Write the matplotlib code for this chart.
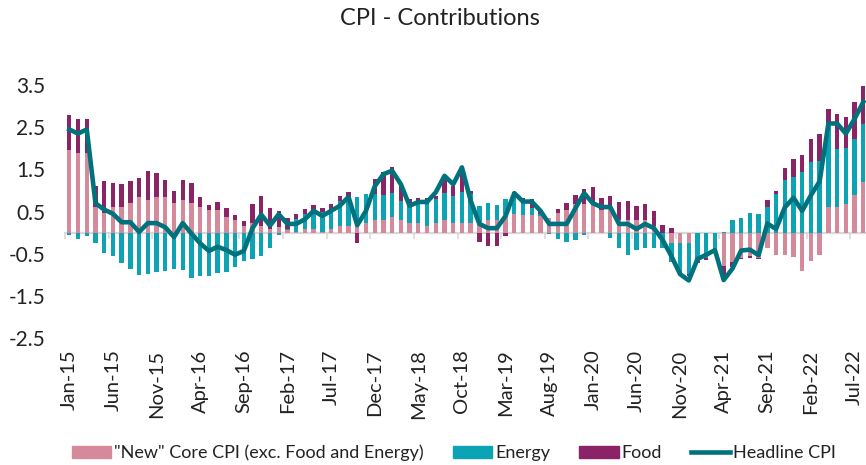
"""
CPI contributions chart - stacked bars (core / energy / food) with headline line
"""
from matplotlib import pyplot as plt
from matplotlib.patches import Patch
from matplotlib.lines import Line2D
import numpy as np
import pandas as pd

plt.rcParams['font.family'] = ['Lato', 'DejaVu Sans']

# Monthly data, Jan-15 .. Aug-22
months = pd.date_range("2015-01-01", "2022-08-01", freq="MS")
month_labels = [m.strftime("%b-%y") for m in months]

core = [1.96, 1.89, 1.89, 0.62, 0.46, 0.60, 0.60, 0.70, 0.85, 0.77, 0.85, 0.85,
        0.70, 0.77, 0.70, 0.61, 0.54, 0.54, 0.38, 0.30, 0.15, 0.23, 0.15, 0.08,
        0.14, 0.07, 0.02, 0.08, 0.08, 0.02, 0.08, 0.16, 0.16, 0.16, 0.23, 0.30,
        0.30, 0.38, 0.30, 0.23, 0.23, 0.15, 0.23, 0.30, 0.23, 0.23, 0.23, 0.23,
        0.30, 0.30, 0.45, 0.45, 0.43, 0.43, 0.40, 0.36, 0.46, 0.54, 0.68, 0.68,
        0.65, 0.54, 0.64, 0.30, 0.30, 0.30, 0.30, 0.17, 0.00, -0.24, -0.25, -0.25,
        0.00, 0.00, 0.00, -0.78, -0.70, -0.59, -0.56, -0.59, -0.37, -0.53, -0.53, -0.58,
        -0.90, -0.66, -0.52, 0.60, 0.60, 0.68, 0.90, 1.21]

energy = [-0.05, -0.15, -0.07, -0.25, -0.47, -0.56, -0.71, -0.86, -1.00, -0.98, -0.92, -0.90,
          -0.86, -0.88, -1.07, -1.03, -1.03, -0.96, -0.92, -0.82, -0.67, -0.62, -0.55, -0.35,
          -0.06, 0.02, 0.31, 0.36, 0.44, 0.48, 0.44, 0.60, 0.72, 0.68, 0.69, 0.62,
          0.60, 0.57, 0.46, 0.45, 0.45, 0.61, 0.57, 0.65, 0.65, 0.73, 0.69, 0.41,
          0.40, 0.36, 0.34, 0.51, 0.32, 0.16, 0.05, -0.04, -0.15, -0.23, -0.17, -0.05,
          0.02, -0.01, -0.13, -0.37, -0.53, -0.41, -0.36, -0.35, -0.36, -0.45, -0.67, -0.73,
          -0.68, -0.60, -0.42, 0.03, 0.31, 0.34, 0.46, 0.44, 0.60, 0.92, 1.26, 1.33,
          1.45, 1.67, 1.69, 2.01, 1.38, 1.34, 1.32, 1.37]

food = [0.82, 0.80, 0.81, 0.49, 0.76, 0.58, 0.55, 0.53, 0.44, 0.70, 0.56, 0.41,
        0.30, 0.49, 0.47, 0.24, 0.13, 0.19, 0.20, 0.11, 0.12, 0.45, 0.73, 0.50,
        0.37, 0.27, 0.11, 0.12, 0.13, 0.08, 0.16, 0.12, 0.09, -0.25, 0.00, 0.35,
        0.55, 0.60, 0.36, 0.12, 0.14, 0.06, 0.08, 0.40, 0.24, 0.55, 0.08, -0.21,
        -0.31, -0.31, -0.08, 0.00, 0.08, 0.21, 0.10, 0.00, 0.10, 0.17, 0.22, 0.36,
        0.41, 0.29, 0.23, 0.42, 0.46, 0.34, 0.38, 0.34, 0.19, 0.11, -0.03, -0.05,
        -0.04, -0.04, -0.02, -0.24, -0.12, -0.02, -0.04, -0.02, 0.17, 0.08, 0.27, 0.42,
        0.39, 0.55, 0.66, 0.32, 0.83, 0.73, 0.87, 0.91]

headline = [2.45, 2.35, 2.45, 0.70, 0.55, 0.45, 0.25, 0.25, 0.02, 0.23, 0.23, 0.13,
            -0.10, 0.23, -0.02, -0.25, -0.43, -0.33, -0.41, -0.52, -0.43, 0.11, 0.43, 0.17,
            0.44, 0.21, 0.21, 0.32, 0.52, 0.40, 0.52, 0.64, 0.85, 0.18, 0.52, 1.10,
            1.39, 1.47, 1.15, 0.64, 0.73, 0.73, 0.96, 1.35, 1.15, 1.55, 0.76, 0.21,
            0.11, 0.11, 0.40, 0.94, 0.74, 0.74, 0.52, 0.21, 0.21, 0.21, 0.58, 0.94,
            0.70, 0.61, 0.61, 0.21, 0.21, 0.09, 0.21, 0.11, -0.17, -0.55, -0.98, -1.13,
            -0.62, -0.52, -0.41, -1.12, -0.85, -0.42, -0.40, -0.53, 0.22, 0.09, 0.60, 0.83,
            0.52, 0.89, 1.22, 2.59, 2.59, 2.35, 2.70, 3.10]

series = [
    (core, '#d48a9b', '"New" Core CPI (exc. Food and Energy)'),
    (energy, '#0ca3b5', 'Energy'),
    (food, '#8b2466', 'Food'),
]
line_color = '#00727d'
y_ticks = [3.5, 2.5, 1.5, 0.5, -0.5, -1.5, -2.5]

fig = plt.figure(figsize=(8.66, 4.65), dpi=100)
ax = fig.add_axes([0.075, 0.2725, 0.925, 0.5445])

x = np.arange(len(months))
pos_base = np.zeros(len(x))
neg_base = np.zeros(len(x))
for vals, color, label in series:
    v = np.array(vals)
    base = np.where(v >= 0, pos_base, neg_base)
    ax.bar(x, v, width=0.5, bottom=base, color=color, linewidth=0, zorder=2)
    pos_base += np.clip(v, 0, None)
    neg_base += np.clip(v, None, 0)

ax.plot(x, headline, color=line_color, lw=3.3, solid_joinstyle='round', zorder=3)

ax.set_xlim(-0.5, 91.31)
ax.set_ylim(-2.5, 3.5)

# y axis: labels only
ax.set_yticks(y_ticks)
ax.set_yticklabels([f"{v:.1f}" for v in y_ticks])
ax.tick_params(axis='y', length=0, pad=14, labelsize=15, labelcolor='#222222')

# zero axis line with tick marks between categories
for s in ['top', 'right', 'left']:
    ax.spines[s].set_visible(False)
ax.spines['bottom'].set_position(('data', 0))
ax.spines['bottom'].set_color('#d9d9d9')
ax.spines['bottom'].set_linewidth(1.6)
ax.spines['bottom'].set_zorder(1)
ax.set_xticks(x[::5] - 0.5)
ax.tick_params(axis='x', length=4, width=1.2, color='#d9d9d9', labelbottom=False)

# category labels sit at the bottom of the plot
sec = ax.secondary_xaxis('bottom')
sec.set_xticks(x[::5])
sec.set_xticklabels(month_labels[::5], rotation=90)
sec.tick_params(length=0, pad=8, labelsize=14.5, labelcolor='#222222')
sec.spines['bottom'].set_visible(False)

fig.text(0.508, 0.961, 'CPI - Contributions', ha='center', va='center',
         fontsize=17, color='#222222')

handles = [Patch(color=c, label=l) for _, c, l in series]
handles.append(Line2D([], [], color=line_color, lw=3.3, label='Headline CPI'))
fig.legend(handles=handles, loc='center', bbox_to_anchor=(0.524, 0.026), ncol=4,
           frameon=False, fontsize=13, handlelength=2.2, handleheight=0.7,
           handletextpad=0.15, columnspacing=1.6, labelcolor='#222222')

fig.savefig('out.png', dpi=100)
